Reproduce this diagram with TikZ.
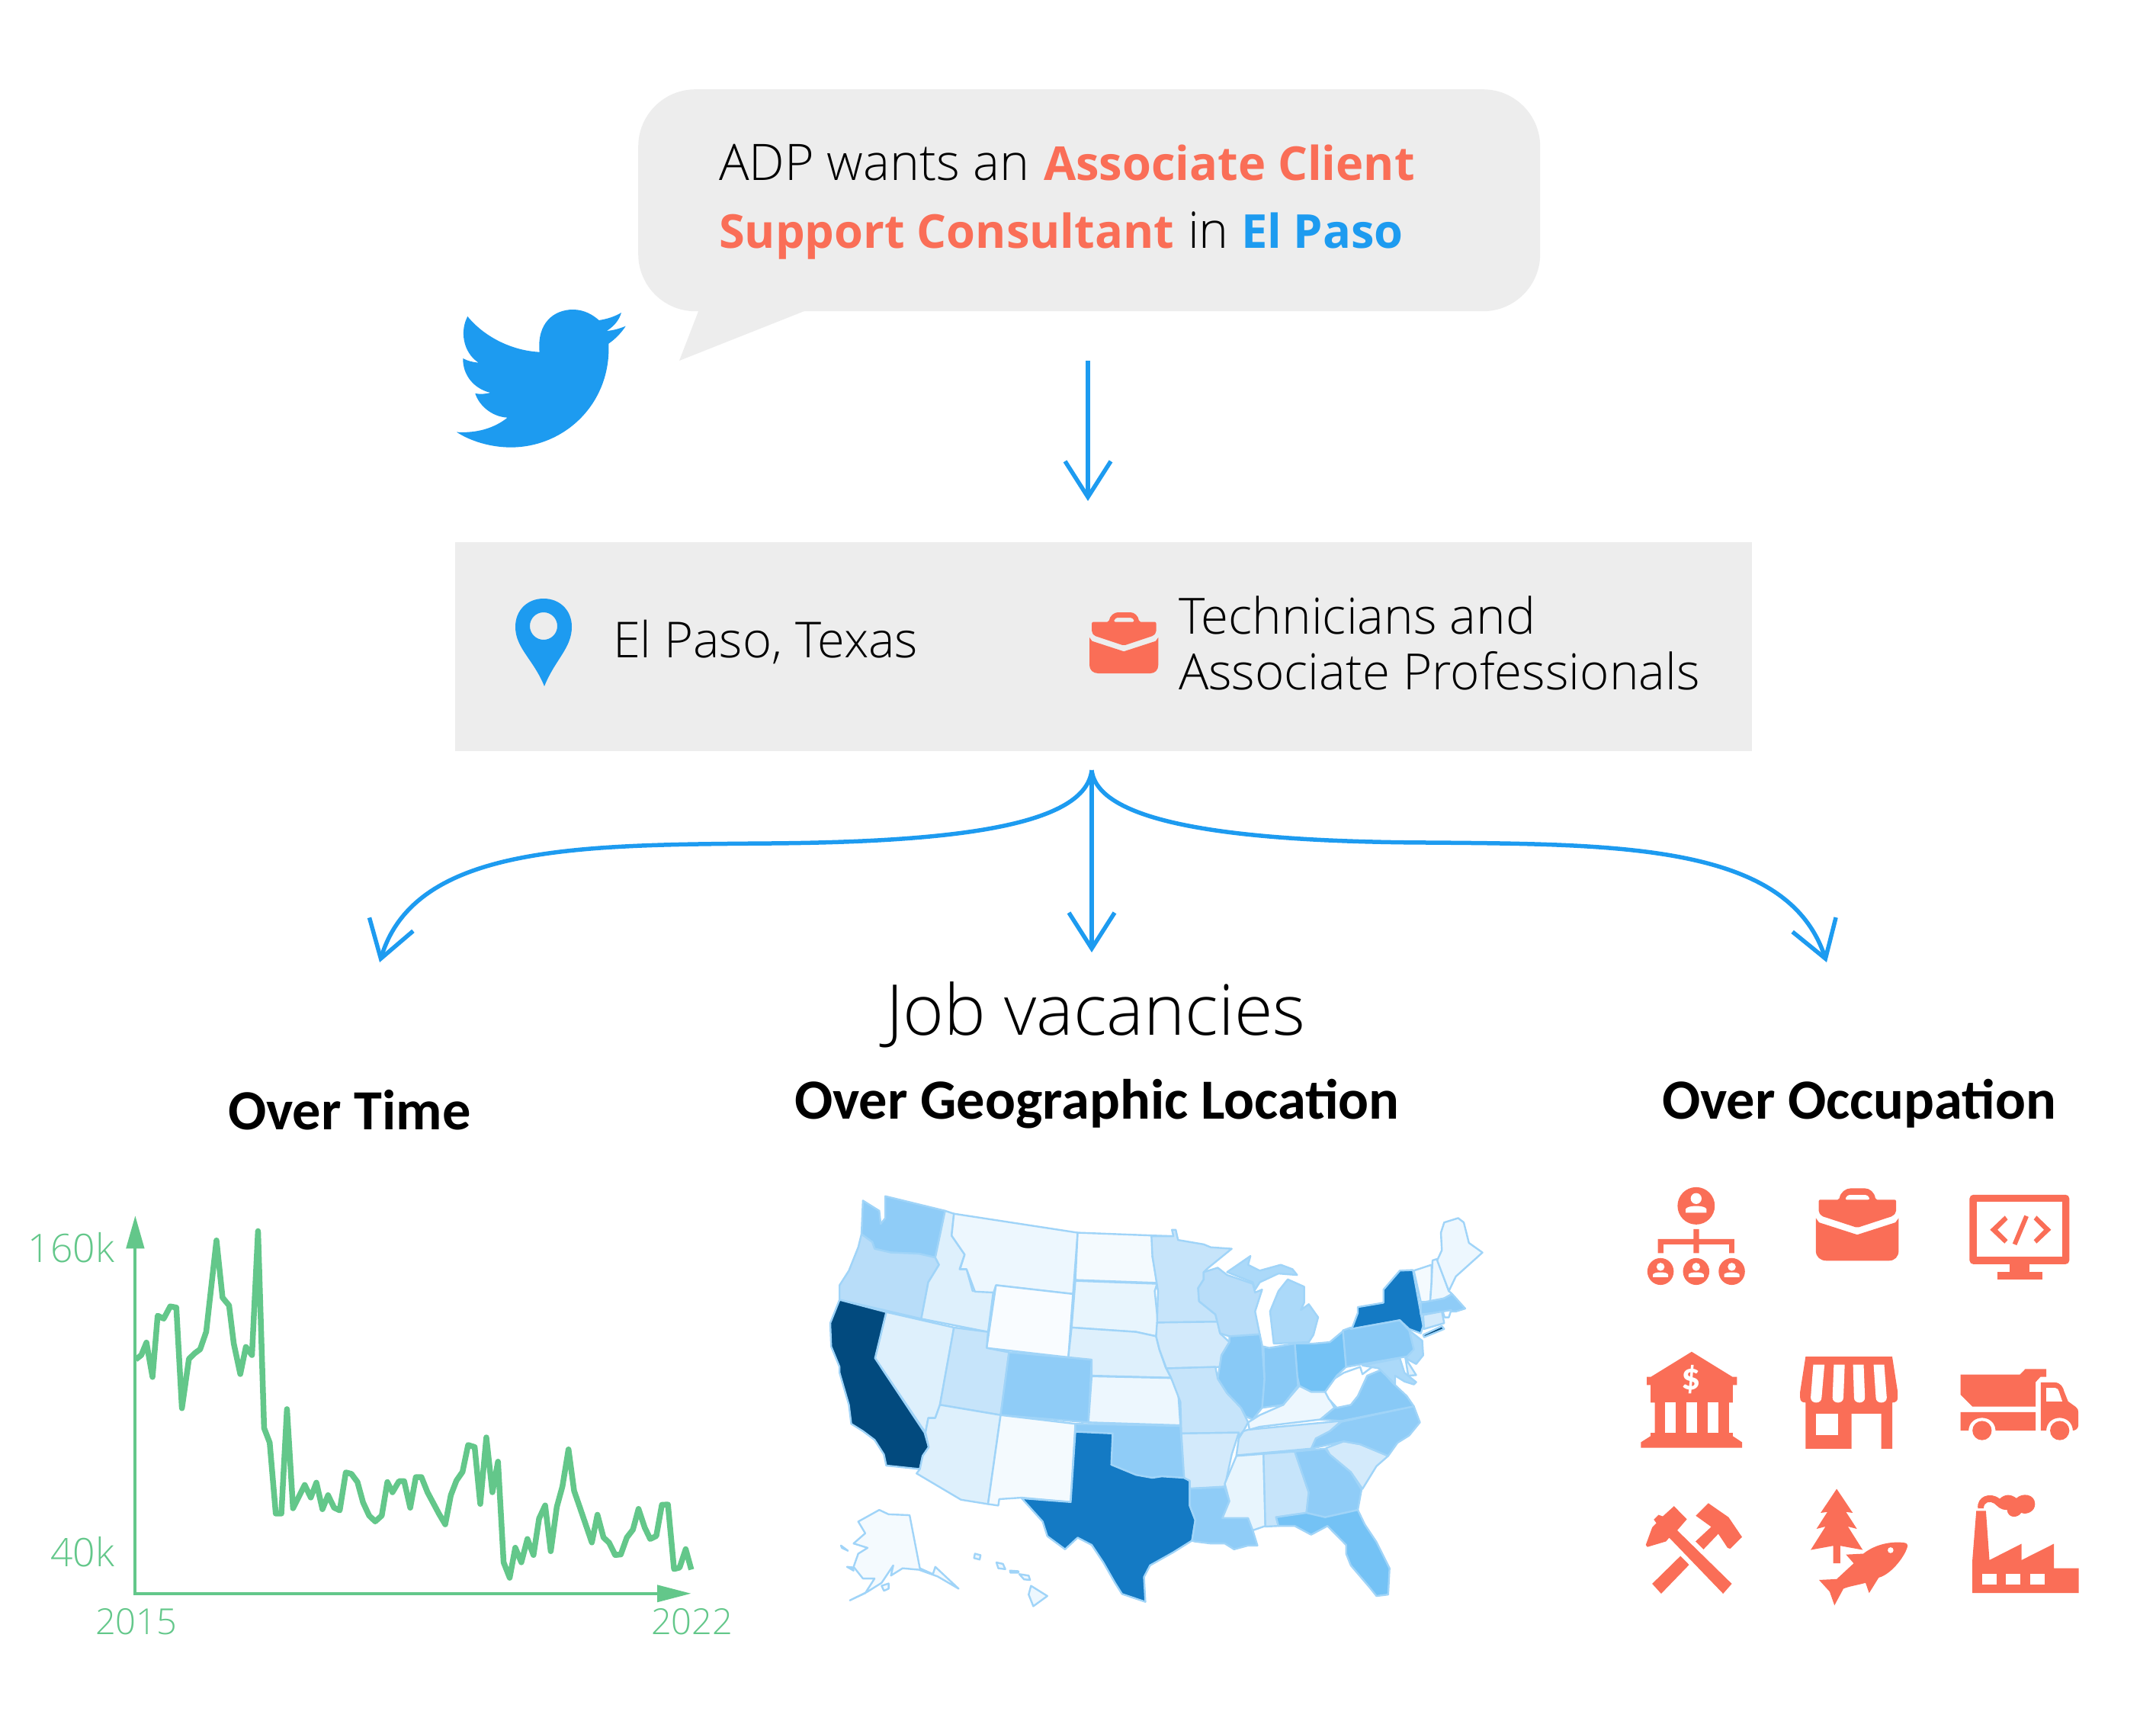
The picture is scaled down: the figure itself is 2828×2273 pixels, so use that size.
\documentclass[tikz,border=0pt]{standalone}
\usepackage{fontspec}
\usetikzlibrary{arrows.meta}
\newfontfamily\lightf{Open Sans Light}
\newfontfamily\semifam{Open Sans}
\newcommand\semif{\semifam\bfseries}
\newfontfamily\headf{Carlito}
\newcommand\fsz[1]{\fontsize{#1pt}{#1pt}\selectfont}
\definecolor{tw}{HTML}{1D9BF0}
\definecolor{cor}{HTML}{FA6E57}
\definecolor{pan}{HTML}{EDEDED}
\definecolor{grn}{HTML}{63C78A}
\definecolor{edge}{HTML}{A0D4F8}
\definecolor{ca}{HTML}{024A7E}
\definecolor{tx}{HTML}{147AC4}
\definecolor{fl}{HTML}{74C2F5}
\definecolor{il}{HTML}{88C9F6}
\definecolor{wa}{HTML}{8FCCF7}
\definecolor{mi}{HTML}{ABD9F9}
\definecolor{or}{HTML}{B8DDF9}
\definecolor{mn}{HTML}{C6E4FA}
\definecolor{ia}{HTML}{D3EAFB}
\definecolor{nv}{HTML}{DEF0FC}
\definecolor{sd}{HTML}{E8F5FD}
\definecolor{mt}{HTML}{EDF7FE}
\definecolor{nd}{HTML}{F4FAFE}
\definecolor{wy}{HTML}{F9FCFF}
\tikzset{
  stateshape/.style={draw=edge,line width=2.4pt,line join=round},
  ic/.style={fill=cor},
  hole/.style={fill=white},
  flowline/.style={draw=tw,line width=5.5pt,-{Straight Barb[length=47pt,width=60pt,line width=5.5pt]}},
  txt/.style={anchor=base west,inner sep=0pt,outer sep=0pt},
  lab/.style={txt,text=black,font=\lightf\fsz{65.5}},
  head/.style={txt,text=black,font=\headf\bfseries\fsz{74.4}},
  ax/.style={txt,text=grn,font=\lightf\fsz{51.5}},
}
\newcommand\st[2]{\path[stateshape,fill=#1] #2 -- cycle;}
\newcommand\suitcase[1]{%
  \begin{scope}[#1]
    \fill[cor,even odd rule,rounded corners=2pt] (695,87) .. controls (698,62) and (715,48) .. (735,48) -- (770,48) .. controls (790,48) and (805,62) .. (808,87) -- (872,87) -- (872,130) -- (862,143) -- (751,183) -- (640,143) -- (631,130) -- (631,87) -- cycle (713,87) .. controls (716,76) and (722,70) .. (732,70) -- (771,70) .. controls (782,70) and (788,76) .. (790,87) -- cycle;
    \fill[cor] (622,150) -- (632,165) -- (751,207) -- (870,165) -- (880,150) -- (880,262) .. controls (880,282) and (868,296) .. (850,296) -- (655,296) .. controls (635,296) and (622,282) .. (622,262) -- cycle;
  \end{scope}}
\newcommand\person[4]{% x, y, head r scale
  \fill[hole] (#1,#2) ellipse ({#3} and {#3*1.1});
  \fill[hole] ({#1-1.9*#3},{#2+2.85*#3}) -- ({#1-1.9*#3},{#2+2.1*#3}) .. controls ({#1-1.6*#3},{#2+1.3*#3}) and ({#1+1.6*#3},{#2+1.3*#3}) .. ({#1+1.9*#3},{#2+2.1*#3}) -- ({#1+1.9*#3},{#2+2.85*#3}) -- cycle;}
\begin{document}
\begin{tikzpicture}[x=1pt,y=-1pt]
\useasboundingbox (0,0) rectangle (2828,2273);
\fill[white] (0,0) rectangle (2828,2273);
% speech bubble
\fill[pan] (920,398) -- (891,473) -- (1060,406) -- cycle;
\node[fill=pan,rounded corners=75pt,minimum width=1183pt,minimum height=291pt,inner sep=0pt,anchor=north west] (bubble) at (837,117) {};
\node[txt,font=\lightf\fsz{66}] (t1) at (943,236) {ADP wants an};
\node[txt,font=\semif\fsz{61.3},text=cor] (t2) at (1369,236) {Associate Client};
\node[txt,font=\semif\fsz{61.3},text=cor] (t3) at (943,325) {Support Consultant};
\node[txt,font=\lightf\fsz{66}] (t4) at (1558,325) {in};
\node[txt,font=\semif\fsz{61.3},text=tw] (t5) at (1628,325) {El Paso};
% bird
\begin{scope}[shift={(580,380)},x=0.3333pt,y=-0.3333pt]
\fill[tw] (100,105) .. controls (170,190) and (280,240) .. (383,245)
 .. controls (372,130) and (440,78) .. (515,78)
 .. controls (560,78) and (595,100) .. (617,120)
 .. controls (650,115) and (680,105) .. (705,90)
 .. controls (695,125) and (670,148) .. (647,162)
 .. controls (675,160) and (700,152) .. (722,143)
 .. controls (705,170) and (680,195) .. (655,212)
 .. controls (665,450) and (480,620) .. (270,620)
 .. controls (190,620) and (110,595) .. (57,560)
 .. controls (135,565) and (205,545) .. (257,503)
 .. controls (195,500) and (145,455) .. (130,408)
 .. controls (150,412) and (170,410) .. (190,405)
 .. controls (125,390) and (80,335) .. (82,270)
 .. controls (100,280) and (120,285) .. (143,287)
 .. controls (80,245) and (70,160) .. (100,105) -- cycle;
\end{scope}
% panel
\node[fill=pan,minimum width=1701pt,minimum height=274pt,inner sep=0pt,anchor=north west] (panel) at (597,711) {};
\fill[tw,even odd rule] (714,900) .. controls (700,865) and (676,850) .. (676,822) .. controls (676,800) and (692,785) .. (713,785) .. controls (734,785) and (750,800) .. (750,822) .. controls (750,850) and (728,865) .. (714,900) -- cycle (713,821) ellipse (18 and 18);
\node[lab,font=\lightf\fsz{65}] (elpaso) at (804,862) {El Paso, Texas};
\suitcase{shift={(1429,803)},x=0.35pt,y=-0.3226pt,shift={(-622,-48)}}
\node[lab] (tech1) at (1546,831) {Technicians and};
\node[lab] (tech2) at (1546,904) {Associate Professionals};
% connectors
\coordinate (a1) at (1427,473);
\coordinate (a2) at (1427,657);
\draw[flowline] (a1) -- (a2);
\coordinate (s) at (1432,1010);
\coordinate (m) at (1432,1249);
\coordinate (l) at (498,1262);
\coordinate (r) at (2396,1262);
\draw[flowline] (s) -- (m);
\draw[flowline] (s) .. controls (1424,1081) and (1262,1104) .. (1010,1106) .. controls (760,1108) and (545,1108) .. (l);
\draw[flowline] (s) .. controls (1440,1081) and (1626,1104) .. (1874,1105) .. controls (2130,1107) and (2345,1108) .. (r);
% titles
\node[txt,font=\lightf\fsz{92}] (job) at (1162,1357) {Job vacancies};
\node[head] (h1) at (299,1481) {Over Time};
\node[head] (h2) at (1042,1467) {Over Geographic Location};
\node[head] (h3) at (2180,1467) {Over Occupation};
% chart
\begin{scope}[shift={(20,1580)},x=0.6124pt,y=-0.3827pt]
\coordinate (o) at (257,1332);
\coordinate (yt) at (257,150);
\coordinate (xt) at (1375,1332);
\draw[grn,line width=4pt] (yt) -- (o) -- (xt);
\fill[grn] (257,38) -- (277,150) -- (237,150) -- cycle;
\fill[grn] (1447,1332) -- (1375,1302) -- (1375,1362) -- cycle;
\draw[grn,line width=7.5pt,line join=round] (258,530)--(270,515)--(281,472)--(294,590)--(305,380)--(318,390)--(332,348)--(345,352)--(357,697)--(372,528)--(385,508)--(396,495)--(409,435)--(431,122)--(444,318)--(458,345)--(468,475)--(482,580)--(494,487)--(507,515)--(520,90)--(533,765)--(545,815)--(558,1058)--(570,1058)--(582,700)--(595,1040)--(620,960)--(633,1003)--(645,952)--(658,1043)--(670,995)--(683,1038)--(695,1047)--(708,917)--(720,922)--(733,950)--(745,1020)--(758,1065)--(771,1085)--(785,1065)--(797,950)--(808,985)--(822,947)--(833,947)--(846,1038)--(858,933)--(870,933)--(883,985)--(908,1060)--(921,1095)--(933,995)--(945,945)--(958,915)--(970,823)--(984,830)--(996,1025)--(1009,797)--(1022,985)--(1034,880)--(1046,1225)--(1059,1278)--(1071,1175)--(1084,1225)--(1097,1145)--(1110,1200)--(1122,1075)--(1135,1030)--(1147,1187)--(1160,1035)--(1172,965)--(1185,838)--(1197,980)--(1210,1040)--(1235,1157)--(1247,1062)--(1260,1140)--(1272,1158)--(1285,1200)--(1297,1198)--(1310,1140)--(1323,1113)--(1335,1042)--(1348,1105)--(1360,1145)--(1373,1135)--(1385,1028)--(1398,1027)--(1411,1248)--(1423,1243)--(1436,1180)--(1448,1250);
\end{scope}
\node[ax,anchor=base east] (y1) at (150,1655) {160k};
\node[ax,anchor=base east] (y2) at (150,2054) {40k};
\node[ax,font=\lightf\fsz{47}] (x1) at (125,2143) {2015};
\node[ax,font=\lightf\fsz{47}] (x2) at (854,2143) {2022};
% map
\begin{scope}[shift={(1040,1540)},x=0.6124pt,y=-0.3827pt]
\st{wa}{(198,75)--(326,125)--(305,285)--(270,272)--(210,268)--(175,255)--(170,232)--(147,205)--(150,90)--(185,125)--(188,170)--(198,150)}
\st{or}{(147,205)--(170,232)--(175,255)--(210,268)--(270,272)--(305,285)--(313,310)--(290,370)--(275,495)--(100,430)--(100,380)--(120,330)--(140,250)}
\st{nv}{(200,472)--(345,525)--(315,790)--(305,835)--(290,835)--(284,885)--(176,630)}
\st{ca}{(100,430)--(200,472)--(176,630)--(282,885)--(291,935)--(278,965)--(272,1010)--(200,998)--(195,960)--(175,910)--(150,880)--(125,855)--(120,790)--(100,680)--(100,660)--(82,590)--(80,510)}
\st{nv}{(326,125)--(345,135)--(340,210)--(368,275)--(357,325)--(372,325)--(385,400)--(430,395)--(418,540)--(275,495)--(290,370)--(313,310)--(305,285)}
\st{mt}{(345,135)--(610,200)--(600,410)--(435,380)--(430,405)--(390,402)--(372,325)--(358,325)--(368,275)--(340,210)}
\st{wy}{(435,380)--(600,410)--(590,627)--(415,595)}
\st{mn}{(345,525)--(418,540)--(415,595)--(463,610)--(445,825)--(315,790)}
\st{wa}{(463,610)--(640,635)--(633,850)--(445,825)}
\st{nv}{(315,790)--(445,825)--(418,1130)--(360,1115)--(265,1025)--(272,1010)--(278,965)--(291,935)--(284,885)--(290,835)--(305,835)}
\st{nd}{(445,825)--(605,855)--(595,1123)--(490,1108)--(442,1113)--(440,1135)--(418,1130)}
\st{nd}{(610,200)--(810,212)--(770,280)--(780,372)--(605,362)}
\st{sd}{(605,365)--(780,375)--(775,400)--(782,510)--(778,555)--(735,540)--(597,525)}
\st{nv}{(597,525)--(735,540)--(778,555)--(785,600)--(798,660)--(810,697)--(640,690)--(640,635)--(590,627)}
\st{mt}{(640,692)--(810,698)--(825,740)--(830,860)--(633,850)}
\st{wa}{(605,855)--(830,862)--(838,1040)--(790,1035)--(770,1040)--(735,1030)--(682,995)--(685,888)--(605,882)}
\st{tx}{(605,882)--(685,888)--(682,995)--(735,1030)--(770,1040)--(790,1035)--(838,1040)--(850,1050)--(850,1135)--(862,1185)--(855,1255)--(815,1295)--(765,1340)--(752,1380)--(755,1465)--(705,1438)--(690,1400)--(665,1330)--(640,1270)--(610,1245)--(583,1285)--(545,1240)--(535,1190)--(490,1110)--(595,1123)}
\st{mn}{(768,212)--(815,212)--(812,190)--(820,190)--(825,225)--(880,240)--(895,250)--(940,255)--(890,320)--(880,335)--(880,360)--(868,390)--(870,435)--(905,480)--(910,505)--(780,508)--(782,400)--(770,280)}
\st{ia}{(780,508)--(910,505)--(915,545)--(935,575)--(918,620)--(915,660)--(800,665)--(785,600)--(778,555)}
\st{mn}{(800,665)--(905,660)--(910,700)--(930,750)--(960,800)--(975,850)--(965,880)--(950,905)--(955,885)--(832,888)--(830,780)--(810,697)}
\st{ia}{(832,888)--(955,885)--(940,960)--(925,1070)--(850,1077)--(850,1050)--(838,1040)}
\st{wa}{(850,1077)--(925,1072)--(935,1120)--(920,1178)--(975,1178)--(985,1220)--(995,1272)--(975,1272)--(945,1285)--(925,1265)--(895,1265)--(860,1258)--(855,1255)--(862,1185)--(850,1135)}
\st{sd}{(950,965)--(1008,958)--(1012,1205)--(985,1220)--(975,1178)--(920,1178)--(935,1120)--(925,1060)}
\st{mn}{(1008,958)--(1075,950)--(1105,1090)--(1100,1160)--(1035,1175)--(1040,1205)--(1012,1207)}
\st{wa}{(1075,950)--(1140,940)--(1150,960)--(1195,1020)--(1218,1080)--(1210,1150)--(1140,1175)--(1100,1160)--(1105,1090)}
\st{ia}{(1142,938)--(1180,915)--(1215,925)--(1275,965)--(1250,1000)--(1220,1078)--(1195,1020)--(1150,960)}
\st{wa}{(1175,848)--(1330,795)--(1343,850)--(1320,895)--(1295,920)--(1275,965)--(1215,925)--(1180,915)--(1110,940)--(1120,905)--(1150,880)}
\st{ia}{(975,875)--(1175,845)--(1150,880)--(1120,905)--(1110,940)--(950,963)--(955,905)--(965,880)}
\st{mt}{(975,850)--(1000,825)--(1050,790)--(1085,725)--(1110,745)--(1140,745)--(1160,800)--(1130,840)--(1000,865)--(978,875)}
\st{il}{(1130,840)--(1160,800)--(1195,790)--(1210,760)--(1230,690)--(1260,670)--(1285,715)--(1315,760)--(1330,795)--(1175,845)}
\st{white}{(1140,745)--(1160,700)--(1180,680)--(1215,660)--(1220,685)--(1245,655)--(1260,670)--(1230,690)--(1210,760)--(1195,790)--(1165,800)--(1148,770)}
\st{fl}{(1075,580)--(1115,580)--(1150,575)--(1180,535)--(1185,660)--(1165,690)--(1140,745)--(1110,745)--(1085,725)--(1080,690)}
\st{il}{(1008,590)--(1020,595)--(1075,580)--(1082,725)--(1050,790)--(1005,800)--(1010,700)}
\st{il}{(935,555)--(1000,548)--(1005,585)--(1010,700)--(1005,800)--(985,840)--(970,830)--(960,800)--(930,750)--(910,700)--(918,620)--(935,575)}
\st{or}{(880,335)--(910,320)--(930,345)--(985,375)--(990,405)--(1005,395)--(990,470)--(1000,548)--(935,555)--(915,545)--(905,480)--(870,435)--(868,390)--(880,360)}
\st{mi}{(1060,360)--(1095,385)--(1095,440)--(1088,465)--(1105,445)--(1125,490)--(1115,550)--(1105,575)--(1030,580)--(1022,470)--(1040,400)}
\st{mi}{(930,335)--(980,280)--(975,310)--(1000,330)--(1045,310)--(1070,325)--(1080,345)--(1040,340)--(1000,370)--(990,395)--(985,370)}
\st{tx}{(1300,330)--(1328,328)--(1350,520)--(1345,545)--(1320,530)--(1300,500)--(1197,530)--(1210,475)--(1210,455)--(1265,440)--(1265,395)}
\st{il}{(1178,535)--(1195,525)--(1195,530)--(1300,500)--(1320,535)--(1345,585)--(1330,620)--(1185,660)}
\st{mi}{(1320,535)--(1348,570)--(1350,620)--(1335,650)--(1312,630)--(1330,600)}
\st{mi}{(1220,655)--(1300,630)--(1310,680)--(1335,712)--(1330,720)--(1310,710)--(1290,690)--(1290,720)--(1255,665)}
\st{nv}{(1312,630)--(1335,688)--(1318,690)}
\st{nd}{(1330,330)--(1368,310)--(1368,370)--(1365,437)--(1345,437)}
\st{mt}{(1370,295)--(1380,290)--(1405,400)--(1412,410)--(1395,425)--(1365,437)--(1368,370)}
\st{mt}{(1395,165)--(1425,150)--(1437,165)--(1448,235)--(1477,268)--(1420,350)--(1405,400)--(1380,295)--(1390,260)--(1388,200)}
\st{wa}{(1345,440)--(1395,425)--(1412,410)--(1440,460)--(1420,470)--(1400,470)--(1345,480)}
\st{ia}{(1350,482)--(1390,470)--(1395,510)--(1352,530)}
\st{white}{(1392,470)--(1410,465)--(1405,490)--(1396,490)}
\st{ca}{(1350,550)--(1390,520)--(1395,530)--(1352,558)}
\st{fl}{(1035,1175)--(1100,1160)--(1140,1175)--(1210,1150)--(1225,1200)--(1250,1260)--(1278,1350)--(1275,1440)--(1250,1445)--(1235,1415)--(1195,1340)--(1185,1300)--(1185,1270)--(1145,1205)--(1110,1235)--(1075,1205)--(1040,1205)}
\st{nd}{(250,1168)--(272,1350)--(300,1370)--(305,1345)--(355,1420)--(310,1378)--(270,1355)--(235,1350)--(210,1375)--(215,1340)--(190,1400)--(160,1430)--(122,1460)--(155,1435)--(175,1385)--(150,1385)--(130,1345)--(140,1300)--(160,1280)--(130,1265)--(155,1230)--(140,1190)--(185,1150)--(205,1165)}
\st{nd}{(190,1410)--(205,1402)--(205,1420)--(195,1427)}
\st{nd}{(103,1272)--(118,1290)--(105,1280)}
\st{nd}{(116,1345)--(128,1347)--(130,1358)}
\st{mt}{(510,1410)--(545,1445)--(515,1480)--(505,1440)}
\st{mt}{(485,1370)--(505,1375)--(508,1390)--(495,1388)}
\st{mt}{(465,1358)--(483,1360)--(483,1365)--(466,1365)}
\st{mt}{(436,1330)--(450,1335)--(455,1353)--(440,1350)}
\st{mt}{(390,1300)--(402,1305)--(400,1320)--(388,1315)}
\end{scope}
% icons
\begin{scope}[shift={(2120,1540)},x=0.4209pt,y=-0.3827pt]
% org chart
\fill[ic] (249,108) ellipse (58 and 64);
\person{249}{83}{17}{}
\fill[ic] (130,222) -- (241,222) -- (241,188) -- (258,188) -- (258,222) -- (368,222) -- (368,270) -- (352,270) -- (352,240) -- (258,240) -- (258,270) -- (241,270) -- (241,240) -- (147,240) -- (147,270) -- (130,270) -- cycle;
\foreach \cx in {138,249,360}{\fill[ic] (\cx,333) ellipse (41 and 46); \person{\cx}{317}{12.5}{}}
% suitcase
\suitcase{}
% monitor
\fill[ic,rounded corners=5pt] (1101,70) rectangle (1412,308);
\fill[hole] (1124,95) rectangle (1390,283);
\fill[ic] (1226,300) rectangle (1288,340);
\fill[ic] (1187,335) rectangle (1327,360);
\fill[ic] (1211,142) -- (1220,155) -- (1188,190) -- (1220,225) -- (1210,237) -- (1165,190) -- cycle;
\fill[ic] (1272,140) -- (1285,146) -- (1248,243) -- (1235,237) -- cycle;
\fill[ic] (1310,142) -- (1355,190) -- (1310,237) -- (1301,225) -- (1333,190) -- (1301,155) -- cycle;
% bank
\fill[ic] (235,608) -- (362,694) -- (376,694) -- (376,722) -- (363,722) -- (363,782) -- (351,782) -- (351,886) -- (363,886) -- (363,897) -- (392,918) -- (392,937) -- (77,937) -- (77,918) -- (107,897) -- (107,886) -- (120,886) -- (120,782) -- (107,782) -- (107,722) -- (95,722) -- (95,694) -- (108,694) -- cycle;
\foreach \wx in {152,219,285}{\fill[hole] (\wx,782) rectangle (\wx+33,887);}
\node[text=white,inner sep=0pt,font=\headf\bfseries\fsz{50}] (dollar) at (234,702) {\$};
% shop
\fill[ic] (590,625) -- (860,625) -- (877,745) -- (877,765) .. controls (877,778) and (870,782) .. (860,782) -- (860,940) -- (826,940) -- (826,820) -- (733,820) -- (733,940) -- (590,940) -- (590,782) .. controls (580,782) and (573,778) .. (573,765) -- (573,745) -- cycle;
\fill[hole] (614,652) -- (649,652) -- (640,765) .. controls (640,788) and (606,788) .. (606,765) -- cycle;
\fill[hole] (678,652) -- (712,652) -- (708,765) .. controls (708,788) and (674,788) .. (674,765) -- cycle;
\fill[hole] (738,652) -- (771,652) -- (775,765) .. controls (775,788) and (741,788) .. (741,765) -- cycle;
\fill[hole] (802,652) -- (835,652) -- (843,765) .. controls (843,788) and (809,788) .. (809,765) -- cycle;
\fill[hole] (623,820) rectangle (691,893);
% truck
\fill[ic] (1073,686) -- (1258,686) -- (1275,667) -- (1340,667) -- (1340,694) -- (1322,694) -- (1307,712) -- (1307,796) -- (1110,796) -- (1073,755) -- cycle;
\fill[ic] (1073,815) -- (1307,815) -- (1307,878) -- (1182,878) .. controls (1180,820) and (1100,820) .. (1098,878) -- (1073,878) -- cycle;
\fill[ic] (1323,713) -- (1365,713) .. controls (1385,713) and (1393,730) .. (1396,745) -- (1408,778) -- (1432,797) .. controls (1438,802) and (1440,808) .. (1440,815) -- (1440,860) .. controls (1440,870) and (1432,878) .. (1423,878) .. controls (1420,820) and (1343,820) .. (1340,878) -- (1323,878) -- cycle;
\fill[hole] (1340,732) -- (1368,732) .. controls (1375,732) and (1378,738) .. (1380,745) -- (1390,778) -- (1340,778) -- cycle;
\fill[ic] (1140,878) ellipse (30 and 33);
\fill[ic] (1382,878) ellipse (30 and 33);
% hammers
\fill[ic] (200,1308) -- (227,1338) -- (140,1437) -- (112,1403) -- cycle;
\fill[ic] (180,1137) -- (220,1182) -- (190,1220) -- (360,1403) -- (333,1437) -- (165,1245) -- (155,1258) -- (97,1277) -- (92,1270) -- (112,1210) -- (125,1195) -- (117,1183) -- (132,1167) -- (145,1172) -- cycle;
\fill[ic] (287,1127) -- (350,1175) -- (392,1243) -- (355,1283) -- (347,1280) -- (318,1232) -- (272,1285) -- (247,1258) -- (296,1208) -- (248,1170) -- cycle;
% tree and fish
\fill[ic] (687,1078) -- (737,1160) -- (716,1157) -- (750,1215) -- (722,1207) -- (768,1287) -- (698,1273) -- (698,1333) -- (676,1333) -- (676,1273) -- (606,1287) -- (652,1207) -- (624,1215) -- (658,1157) -- (637,1160) -- cycle;
\fill[ic] (716,1303) -- (770,1300) .. controls (810,1265) and (860,1258) .. (895,1262) .. controls (905,1263) and (908,1268) .. (908,1272) .. controls (905,1300) and (860,1370) .. (818,1382) -- (788,1435) -- (777,1400) .. controls (750,1408) and (725,1412) .. (708,1420) -- (680,1477) -- (665,1430) -- (632,1390) -- (687,1387) -- (740,1333) -- cycle;
\fill[hole] (855,1288) ellipse (9 and 10);
% factory
\fill[ic] (1122,1153) -- (1152,1153) -- (1163,1322) -- (1263,1266) -- (1263,1322) -- (1364,1266) -- (1364,1350) -- (1441,1350) -- (1441,1435) -- (1110,1435) -- (1110,1320) -- cycle;
\foreach \wx in {1140,1214,1290}{\fill[hole] (\wx,1368) rectangle (\wx+46,1406);}
\fill[ic] (1127,1145) .. controls (1122,1105) and (1165,1085) .. (1195,1112) .. controls (1210,1095) and (1230,1095) .. (1247,1110) .. controls (1265,1090) and (1305,1095) .. (1305,1130) .. controls (1305,1155) and (1280,1168) .. (1262,1160) .. controls (1250,1180) and (1220,1178) .. (1218,1150) .. controls (1195,1150) and (1190,1138) .. (1178,1128) .. controls (1165,1118) and (1145,1122) .. (1145,1145) -- cycle;
\end{scope}
\end{tikzpicture}
\end{document}
